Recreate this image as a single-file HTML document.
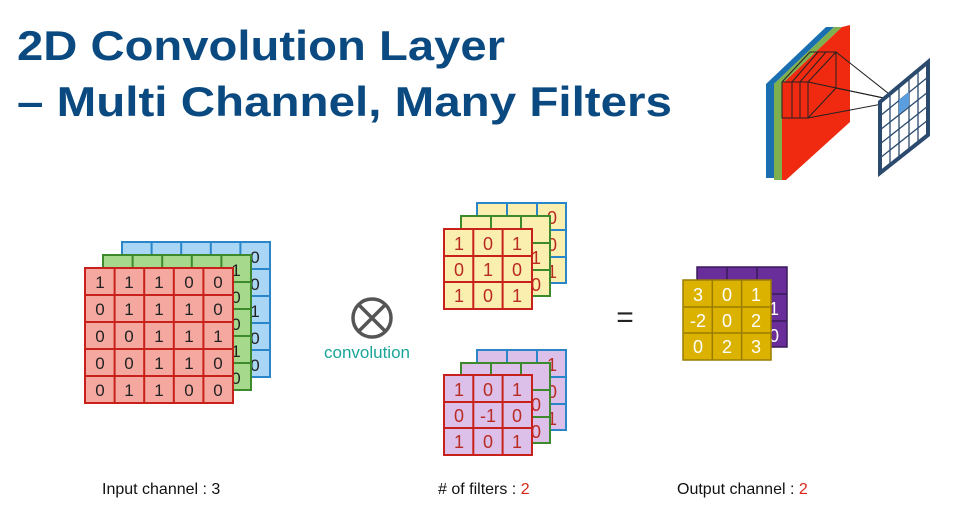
<!DOCTYPE html>
<html><head><meta charset="utf-8"><style>
html,body{margin:0;padding:0;background:#fff;}
svg{display:block;}
text{font-family:"Liberation Sans",Arial,sans-serif;}
</style></head><body>
<svg width="980" height="512" viewBox="0 0 980 512" xmlns="http://www.w3.org/2000/svg">
<rect width="980" height="512" fill="#fff"/>
<text x="17" y="60" font-size="42" font-weight="bold" fill="#0b4a80" textLength="488" lengthAdjust="spacingAndGlyphs">2D Convolution Layer</text>
<text x="17" y="116" font-size="42" font-weight="bold" fill="#0b4a80" textLength="655" lengthAdjust="spacingAndGlyphs">– Multi Channel, Many Filters</text>

<!-- top right icon -->
<polygon points="766,84 826,27 834,27 774,84 774,178 766,178" fill="#1a6fb0"/>
<polygon points="774,84 834,27 842,27 782,84 782,180 774,180" fill="#7fb050"/>
<polygon points="782,84 842,27 850,25 850,122 786,180 782,180" fill="#f02a10"/>
<g stroke="#222" stroke-width="1" fill="none">
<polyline points="782,82 810,52 836,52 836,88 808,118 782,118 782,82"/>
<line x1="808" y1="82" x2="836" y2="52"/><line x1="782" y1="82" x2="808" y2="82"/><line x1="808" y1="82" x2="808" y2="118"/>
<line x1="818" y1="52" x2="792" y2="82"/><line x1="826" y1="52" x2="800" y2="82"/>
<line x1="792" y1="82" x2="792" y2="118"/><line x1="800" y1="82" x2="800" y2="118"/>
<line x1="836" y1="52" x2="898" y2="101"/><line x1="808" y1="82" x2="898" y2="101"/>
<line x1="808" y1="118" x2="898" y2="101"/><line x1="836" y1="88" x2="898" y2="101"/>
</g>
<polygon points="880,102 928,62 928,135 880,173" fill="#fff" stroke="#2b4a6e" stroke-width="4"/>
<g stroke="#2b4a6e" stroke-width="1.3">
<line x1="880" y1="116" x2="928" y2="77"/><line x1="880" y1="130" x2="928" y2="92"/><line x1="880" y1="144" x2="928" y2="106"/><line x1="880" y1="158" x2="928" y2="120"/>
<line x1="890" y1="94" x2="890" y2="165"/><line x1="899" y1="86" x2="899" y2="157"/><line x1="909" y1="78" x2="909" y2="150"/><line x1="918" y1="70" x2="918" y2="143"/>
</g>
<polygon points="899,100 909,92 909,106 899,114" fill="#5b9ee0"/>

<!-- input channels -->
<g font-size="17" fill="#222" text-anchor="middle">
<rect x="122" y="242" width="148" height="135" fill="#a9d6f5" stroke="#2a86c8" stroke-width="2"/>
<g stroke="#2a86c8" stroke-width="2"><line x1="151.6" y1="242" x2="151.6" y2="377"/><line x1="181.2" y1="242" x2="181.2" y2="377"/><line x1="210.8" y1="242" x2="210.8" y2="377"/><line x1="240.4" y1="242" x2="240.4" y2="377"/><line x1="122" y1="269" x2="270" y2="269"/><line x1="122" y1="296" x2="270" y2="296"/><line x1="122" y1="323" x2="270" y2="323"/><line x1="122" y1="350" x2="270" y2="350"/></g>
<text x="255" y="263">0</text><text x="255" y="290">0</text><text x="255" y="317">1</text><text x="255" y="344">0</text><text x="255" y="371">0</text>
<rect x="103" y="255" width="148" height="135" fill="#a6d98c" stroke="#3d8a2c" stroke-width="2"/>
<g stroke="#3d8a2c" stroke-width="2"><line x1="132.6" y1="255" x2="132.6" y2="390"/><line x1="162.2" y1="255" x2="162.2" y2="390"/><line x1="191.8" y1="255" x2="191.8" y2="390"/><line x1="221.4" y1="255" x2="221.4" y2="390"/><line x1="103" y1="282" x2="251" y2="282"/><line x1="103" y1="309" x2="251" y2="309"/><line x1="103" y1="336" x2="251" y2="336"/><line x1="103" y1="363" x2="251" y2="363"/></g>
<text x="236" y="276">1</text><text x="236" y="303">0</text><text x="236" y="330">0</text><text x="236" y="357">1</text><text x="236" y="384">0</text>
<rect x="85" y="268" width="148" height="135" fill="#f5a8a0" stroke="#c8201a" stroke-width="2"/>
<g stroke="#c8201a" stroke-width="2"><line x1="114.6" y1="268" x2="114.6" y2="403"/><line x1="144.2" y1="268" x2="144.2" y2="403"/><line x1="173.8" y1="268" x2="173.8" y2="403"/><line x1="203.4" y1="268" x2="203.4" y2="403"/><line x1="85" y1="295" x2="233" y2="295"/><line x1="85" y1="322" x2="233" y2="322"/><line x1="85" y1="349" x2="233" y2="349"/><line x1="85" y1="376" x2="233" y2="376"/></g>
<g>
<text x="100" y="288">1</text><text x="129" y="288">1</text><text x="159" y="288">1</text><text x="189" y="288">0</text><text x="218" y="288">0</text>
<text x="100" y="315">0</text><text x="129" y="315">1</text><text x="159" y="315">1</text><text x="189" y="315">1</text><text x="218" y="315">0</text>
<text x="100" y="342">0</text><text x="129" y="342">0</text><text x="159" y="342">1</text><text x="189" y="342">1</text><text x="218" y="342">1</text>
<text x="100" y="369">0</text><text x="129" y="369">0</text><text x="159" y="369">1</text><text x="189" y="369">1</text><text x="218" y="369">0</text>
<text x="100" y="396">0</text><text x="129" y="396">1</text><text x="159" y="396">1</text><text x="189" y="396">0</text><text x="218" y="396">0</text>
</g>
</g>

<!-- operator -->
<circle cx="372" cy="318" r="19" fill="none" stroke="#555" stroke-width="3.5"/>
<line x1="359" y1="305" x2="385" y2="331" stroke="#555" stroke-width="3.5"/>
<line x1="385" y1="305" x2="359" y2="331" stroke="#555" stroke-width="3.5"/>
<text x="367" y="358" font-size="17" fill="#1aa59a" text-anchor="middle">convolution</text>
<text x="625" y="327" font-size="30" fill="#222" text-anchor="middle">=</text>

<!-- filters -->
<g font-size="18" fill="#b82b22" text-anchor="middle">
<!-- filter 1 -->
<rect x="477" y="203" width="89" height="80" fill="#fbefb0" stroke="#2a86c8" stroke-width="2"/>
<g stroke="#2a86c8" stroke-width="2"><line x1="507" y1="203" x2="507" y2="283"/><line x1="537" y1="203" x2="537" y2="283"/><line x1="477" y1="230" x2="566" y2="230"/><line x1="477" y1="257" x2="566" y2="257"/></g>
<text x="552" y="224">0</text><text x="552" y="251">0</text><text x="552" y="278">1</text>
<rect x="461" y="216" width="89" height="80" fill="#fbefb0" stroke="#3d8a2c" stroke-width="2"/>
<g stroke="#3d8a2c" stroke-width="2"><line x1="491" y1="216" x2="491" y2="296"/><line x1="521" y1="216" x2="521" y2="296"/><line x1="461" y1="243" x2="550" y2="243"/><line x1="461" y1="270" x2="550" y2="270"/></g>
<text x="536" y="264">1</text><text x="536" y="291">0</text>
<rect x="444" y="229" width="88" height="80" fill="#fbefb0" stroke="#c8201a" stroke-width="2"/>
<g stroke="#c8201a" stroke-width="2"><line x1="473.3" y1="229" x2="473.3" y2="309"/><line x1="502.6" y1="229" x2="502.6" y2="309"/><line x1="444" y1="256" x2="532" y2="256"/><line x1="444" y1="282" x2="532" y2="282"/></g>
<text x="459" y="250">1</text><text x="488" y="250">0</text><text x="517" y="250">1</text>
<text x="459" y="276">0</text><text x="488" y="276">1</text><text x="517" y="276">0</text>
<text x="459" y="302">1</text><text x="488" y="302">0</text><text x="517" y="302">1</text>
<!-- filter 2 -->
<rect x="477" y="350" width="89" height="80" fill="#dcc0ea" stroke="#2a86c8" stroke-width="2"/>
<g stroke="#2a86c8" stroke-width="2"><line x1="507" y1="350" x2="507" y2="430"/><line x1="537" y1="350" x2="537" y2="430"/><line x1="477" y1="377" x2="566" y2="377"/><line x1="477" y1="404" x2="566" y2="404"/></g>
<text x="552" y="371">1</text><text x="552" y="398">0</text><text x="552" y="425">1</text>
<rect x="461" y="363" width="89" height="80" fill="#dcc0ea" stroke="#3d8a2c" stroke-width="2"/>
<g stroke="#3d8a2c" stroke-width="2"><line x1="491" y1="363" x2="491" y2="443"/><line x1="521" y1="363" x2="521" y2="443"/><line x1="461" y1="390" x2="550" y2="390"/><line x1="461" y1="417" x2="550" y2="417"/></g>
<text x="536" y="411">0</text><text x="536" y="438">0</text>
<rect x="444" y="375" width="88" height="80" fill="#dcc0ea" stroke="#c8201a" stroke-width="2"/>
<g stroke="#c8201a" stroke-width="2"><line x1="473.3" y1="375" x2="473.3" y2="455"/><line x1="502.6" y1="375" x2="502.6" y2="455"/><line x1="444" y1="402" x2="532" y2="402"/><line x1="444" y1="428" x2="532" y2="428"/></g>
<text x="459" y="396">1</text><text x="488" y="396">0</text><text x="517" y="396">1</text>
<text x="459" y="422">0</text><text x="488" y="422">-1</text><text x="517" y="422">0</text>
<text x="459" y="448">1</text><text x="488" y="448">0</text><text x="517" y="448">1</text>
</g>

<!-- output -->
<g font-size="18" fill="#fff" text-anchor="middle">
<rect x="697" y="267" width="90" height="80" fill="#6a2e9a" stroke="#3a1a5a" stroke-width="1.5"/>
<g stroke="#3a1a5a" stroke-width="1.5"><line x1="727" y1="267" x2="727" y2="347"/><line x1="757" y1="267" x2="757" y2="347"/><line x1="697" y1="294" x2="787" y2="294"/><line x1="697" y1="321" x2="787" y2="321"/></g>
<text x="774" y="315">1</text><text x="774" y="342">0</text>
<rect x="683" y="280" width="88" height="80" fill="#dcb200" stroke="#9a7c00" stroke-width="1.5"/>
<g stroke="#9a7c00" stroke-width="1.5"><line x1="712.3" y1="280" x2="712.3" y2="360"/><line x1="741.6" y1="280" x2="741.6" y2="360"/><line x1="683" y1="307" x2="771" y2="307"/><line x1="683" y1="333" x2="771" y2="333"/></g>
<text x="698" y="301">3</text><text x="727" y="301">0</text><text x="756" y="301">1</text>
<text x="698" y="327">-2</text><text x="727" y="327">0</text><text x="756" y="327">2</text>
<text x="698" y="353">0</text><text x="727" y="353">2</text><text x="756" y="353">3</text>
</g>

<!-- labels -->
<g font-size="16" fill="#111">
<text x="102" y="494">Input channel : 3</text>
<text x="438" y="494"># of filters : <tspan fill="#d8261a">2</tspan></text>
<text x="677" y="494">Output channel : <tspan fill="#d8261a">2</tspan></text>
</g>
</svg>
</body></html>
